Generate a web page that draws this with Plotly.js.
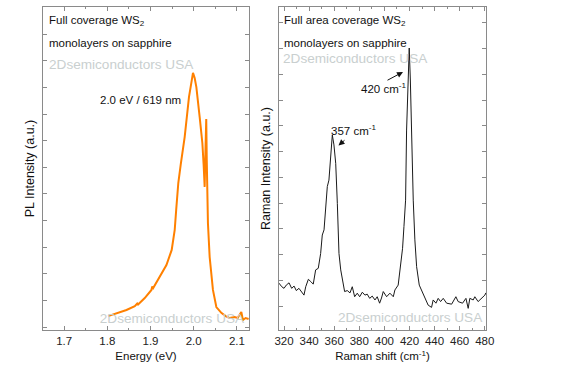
<!DOCTYPE html>
<html><head><meta charset="utf-8">
<script src="https://cdn.plot.ly/plotly-3.0.1.min.js"></script>
<style>html,body{margin:0;padding:0;background:#fff}#chart{width:571px;height:382px}</style>
</head><body><div id="chart"></div>
<script>
// PL spectrum (energy in eV, intensity in a.u.)
const plEnergy = [1.8017,1.8219,1.8443,1.8635,1.8692,1.8711,1.8866,1.9021,1.9039,1.9062,1.9252,1.9368,1.9490,1.9560,1.9594,1.9629,1.9643,1.9698,1.9791,1.9890,1.9929,1.9983,2.0022,2.0061,2.0138,2.0200,2.0230,2.0253,2.0272,2.0290,2.0302,2.0311,2.0329,2.0369,2.0445,2.0524,2.0639,2.0739,2.0831,2.0948,2.1016,2.1102,2.1139,2.1201,2.1271];
const plIntensity = [0.043,0.051,0.062,0.074,0.082,0.079,0.099,0.124,0.135,0.130,0.176,0.201,0.248,0.310,0.372,0.433,0.455,0.511,0.598,0.721,0.759,0.796,0.780,0.752,0.659,0.579,0.511,0.443,0.557,0.653,0.526,0.433,0.331,0.226,0.124,0.071,0.053,0.043,0.037,0.040,0.037,0.056,0.031,0.037,0.034];

// Raman spectrum (shift in cm^-1, intensity in a.u.)
const ramanShift = [316.0,318.2,320.0,321.8,324.0,326.1,328.0,329.8,331.9,334.1,335.9,337.3,339.4,341.3,343.3,345.2,347.3,349.2,350.5,351.9,353.2,354.5,355.8,357.2,358.5,359.8,361.2,362.5,363.8,365.2,366.4,368.3,370.4,372.6,374.4,376.3,378.4,380.3,382.4,384.5,386.3,388.3,390.3,392.5,394.3,396.2,397.7,399.1,401.8,404.4,407.1,408.4,411.0,412.9,414.5,415.6,416.9,417.7,418.9,419.8,420.7,421.5,423.0,424.3,425.7,427.8,430.9,434.9,437.6,438.9,441.1,442.9,444.8,446.9,449.6,453.6,457.0,458.8,462.3,465.0,466.8,468.1,470.8,472.1,474.7,477.5,480.1,480.9];
const ramanIntensity = [0.145,0.134,0.129,0.139,0.146,0.129,0.136,0.122,0.129,0.119,0.108,0.134,0.157,0.150,0.142,0.186,0.191,0.237,0.294,0.310,0.382,0.444,0.464,0.547,0.604,0.573,0.516,0.392,0.237,0.186,0.155,0.119,0.122,0.115,0.134,0.103,0.114,0.103,0.117,0.108,0.111,0.098,0.105,0.093,0.103,0.083,0.099,0.119,0.103,0.114,0.103,0.124,0.139,0.196,0.253,0.320,0.402,0.619,0.774,0.873,0.774,0.619,0.402,0.279,0.196,0.139,0.114,0.077,0.070,0.093,0.083,0.098,0.088,0.098,0.083,0.080,0.103,0.088,0.083,0.098,0.067,0.098,0.093,0.103,0.088,0.098,0.108,0.115];

const plTicks = [1.7,1.8,1.9,2.0,2.1];
const ramanTicks = [320,340,360,380,400,420,440,460,480];
const watermark = '2Dsemiconductors USA';

const FONT = 'Arial, "Liberation Sans", sans-serif';
const W = 571, H = 382, L = 43, R = 486, T = 7, B = 330;
const px = x => (x - L) / (R - L);
const py = y => (B - y) / (B - T);

const axisCommon = {
  showline: true, linecolor: '#8a8a8a', linewidth: 1, mirror: 'ticks',
  ticks: 'inside', ticklen: 4, tickcolor: '#8a8a8a', tickwidth: 1,
  showgrid: false, zeroline: false,
  tickfont: {family: FONT, size: 11.5, color: '#222'}
};

const traces = [
  {x: plEnergy, y: plIntensity, type: 'scatter', mode: 'lines',
   line: {color: '#ff8000', width: 2}, xaxis: 'x', yaxis: 'y', hoverinfo: 'skip'},
  {x: ramanShift, y: ramanIntensity, type: 'scatter', mode: 'lines',
   line: {color: '#1a1a1a', width: 1}, xaxis: 'x2', yaxis: 'y2', hoverinfo: 'skip'},
  {x: [1.7825], y: [0.031], type: 'scatter', mode: 'text', text: [watermark],
   textposition: 'middle right', cliponaxis: true,
   textfont: {family: FONT, size: 13.6, color: '#c9cfcf'}, xaxis: 'x', yaxis: 'y', hoverinfo: 'skip'},
  {x: [363], y: [0.036], type: 'scatter', mode: 'text', text: [watermark],
   textposition: 'middle right', cliponaxis: true,
   textfont: {family: FONT, size: 13.6, color: '#c9cfcf'}, xaxis: 'x2', yaxis: 'y2', hoverinfo: 'skip'}
];

const txt = (x, y, text, size, color) => ({
  xref: 'paper', yref: 'paper', x: px(x), y: py(y), text: text,
  showarrow: false, xanchor: 'left', yanchor: 'middle',
  font: {family: FONT, size: size, color: color || '#111'}
});
const arrow = (hx, hy, tx, ty) => ({
  xref: 'paper', yref: 'paper', x: px(hx), y: py(hy), ax: tx - hx, ay: ty - hy,
  text: '', showarrow: true, arrowhead: 2, arrowsize: 1.2, arrowwidth: 1, arrowcolor: '#111'
});

const layout = {
  width: W, height: H,
  margin: {l: L, r: W - R, t: T, b: H - B, pad: 0},
  paper_bgcolor: '#fff', plot_bgcolor: '#fff',
  showlegend: false,
  xaxis: Object.assign({}, axisCommon, {
    domain: [0, px(249)], range: [1.651, 2.128], tickvals: plTicks,
    ticktext: plTicks.map(v => v.toFixed(1)),
    minor: {dtick: 0.05, tick0: 1.65, ticks: 'inside', ticklen: 2, tickcolor: '#8a8a8a'},
    title: {text: 'Energy (eV)', font: {family: FONT, size: 11.5, color: '#111'}, standoff: 6},
    anchor: 'y'
  }),
  yaxis: Object.assign({}, axisCommon, {
    domain: [0, 1], range: [0, 1], showticklabels: false,
    tick0: 0.0093, dtick: 0.0824,
    title: {text: 'PL Intensity (a.u.)', font: {family: FONT, size: 12.5, color: '#111'}, standoff: 4},
    anchor: 'x'
  }),
  xaxis2: Object.assign({}, axisCommon, {
    domain: [px(279), 1], range: [316, 481], tickvals: ramanTicks,
    minor: {dtick: 10, tick0: 320, ticks: 'inside', ticklen: 2, tickcolor: '#8a8a8a'},
    title: {text: 'Raman shift (cm<sup>-1</sup>)', font: {family: FONT, size: 11.5, color: '#111'}, standoff: 6},
    anchor: 'y2'
  }),
  yaxis2: Object.assign({}, axisCommon, {
    domain: [0, 1], range: [0, 1], showticklabels: false,
    tick0: 0.0743, dtick: 0.0797,
    title: {text: 'Raman Intensity (a.u.)', font: {family: FONT, size: 12.5, color: '#111'}, standoff: 4},
    anchor: 'x2'
  }),
  annotations: [
    txt(47, 21, 'Full coverage WS<sub>2</sub>', 11.5),
    txt(47, 43.5, 'monolayers on sapphire', 11.5),
    txt(47, 64, watermark, 13.6, '#c9cfcf'),
    txt(98, 100, '2.0 eV / 619 nm', 11.5),
    txt(282, 21, 'Full area coverage WS<sub>2</sub>', 11.5),
    txt(282, 43, 'monolayers on sapphire', 11.5),
    txt(281, 58, watermark, 13.6, '#c9cfcf'),
    txt(359, 88, '420 cm<sup>-1</sup>', 11.5),
    txt(329, 130, '357 cm<sup>-1</sup>', 11.5),
    arrow(403, 72, 386, 81),
    arrow(338.5, 145.5, 346, 139)
  ]
};

Plotly.newPlot('chart', traces, layout, {staticPlot: true, displayModeBar: false});
</script>
</body></html>
